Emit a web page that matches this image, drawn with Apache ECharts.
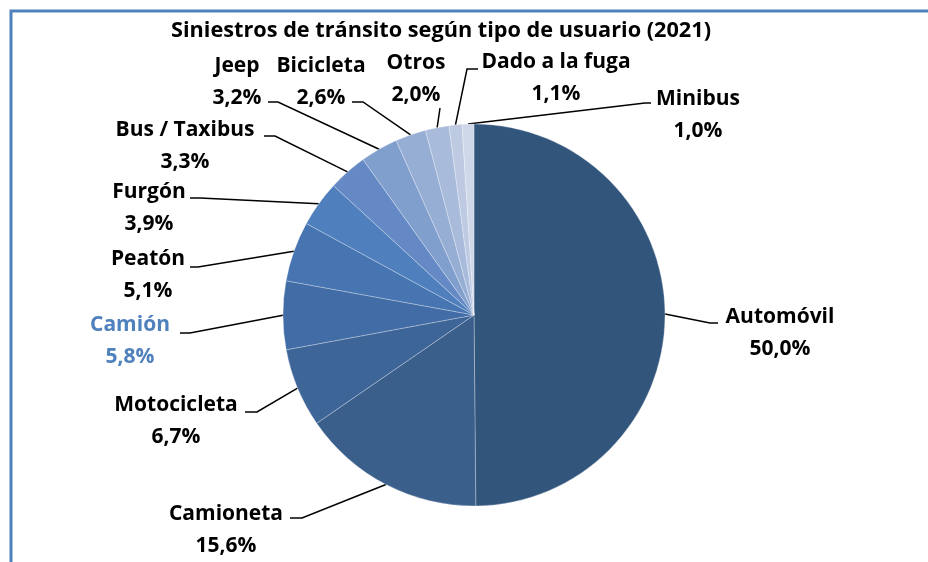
<!DOCTYPE html>
<html>
<head>
<meta charset="utf-8">
<script src="https://cdn.jsdelivr.net/npm/echarts@6/dist/echarts.min.js"></script>
<style>
  html, body { margin: 0; padding: 0; background: #fff; overflow: hidden; }
  #chart { width: 928px; height: 562px; }
</style>
</head>
<body>
<div id="chart"></div>
<script>
const categories = ["Automóvil", "Camioneta", "Motocicleta", "Camión", "Peatón", "Furgón",
    "Bus / Taxibus", "Jeep", "Bicicleta", "Otros", "Dado a la fuga", "Minibus"];
const shares = [50.0, 15.6, 6.7, 5.8, 5.1, 3.9, 3.3, 3.2, 2.6, 2.0, 1.1, 1.0];

const colors = ["#32557c", "#3a5f8b", "#3e6598", "#426ca5", "#4775b1", "#4f80bd",
    "#6589c4", "#809fcc", "#97aed4", "#a9bbdb", "#bdcae2", "#cfd8e9"];

// label block centre and leader line bend / end, per slice
const labelSpots = [
    [780, 333, 710, 323, 718],
    [226, 530, 302, 518, 290],
    [176, 421, 257, 412, 245],
    [130, 341, 190, 333, 180],
    [148, 275, 198, 267, 190],
    [149, 208, 200, 198, 190],
    [185, 146, 275, 136, 264],
    [237, 82, 278, 102, 268],
    [321, 82, 363, 102, 352],
    [416, 79, 440, 108, 440],
    [556, 78, 467, 69, 478],
    [698, 115, 645, 103, 651]
];

const chart = echarts.init(document.getElementById("chart"));

const fontFamily = "'Open Sans', sans-serif";

chart.setOption({
    animation: false,
    title: {
        text: "Siniestros de tránsito según tipo de usuario (2021)",
        left: 436,
        top: 15,
        textAlign: "center",
        textStyle: { fontFamily: fontFamily, fontWeight: "bold", fontSize: 21.7, color: "#000" }
    },
    graphic: [{
        type: "polyline",
        shape: { points: [[11, 600], [11, 11], [940, 11]] },
        style: { fill: null, stroke: "#4f81bd", lineWidth: 3 }
    }],
    series: [{
        type: "pie",
        center: [474, 315],
        radius: 191,
        startAngle: 90,
        clockwise: true,
        avoidLabelOverlap: false,
        itemStyle: { borderColor: "rgba(255,255,255,0.35)", borderWidth: 0.8 },
        label: {
            show: true,
            position: "outside",
            fontFamily: fontFamily,
            fontWeight: "bold",
            fontSize: 21,
            lineHeight: 32,
            color: "#000",
            formatter: (p) => p.name + "\n" + p.value.toFixed(1).replace(".", ",") + "%"
        },
        labelLine: { show: true, lineStyle: { color: "#000", width: 1.5 } },
        labelLayout: (params) => {
            const s = labelSpots[params.dataIndex];
            const pts = params.labelLinePoints;
            const start = pts ? pts[0] : [s[2], s[3]];
            return {
                x: s[0],
                y: s[1],
                align: "center",
                verticalAlign: "middle",
                labelLinePoints: [start, [s[2], s[3]], [s[4], s[3]]]
            };
        },
        emphasis: { disabled: true },
        data: categories.map((name, i) => ({
            name: name,
            value: shares[i],
            itemStyle: { color: colors[i] },
            label: name === "Camión" ? { color: "#4f81bd" } : undefined
        }))
    }]
});
</script>
</body>
</html>
